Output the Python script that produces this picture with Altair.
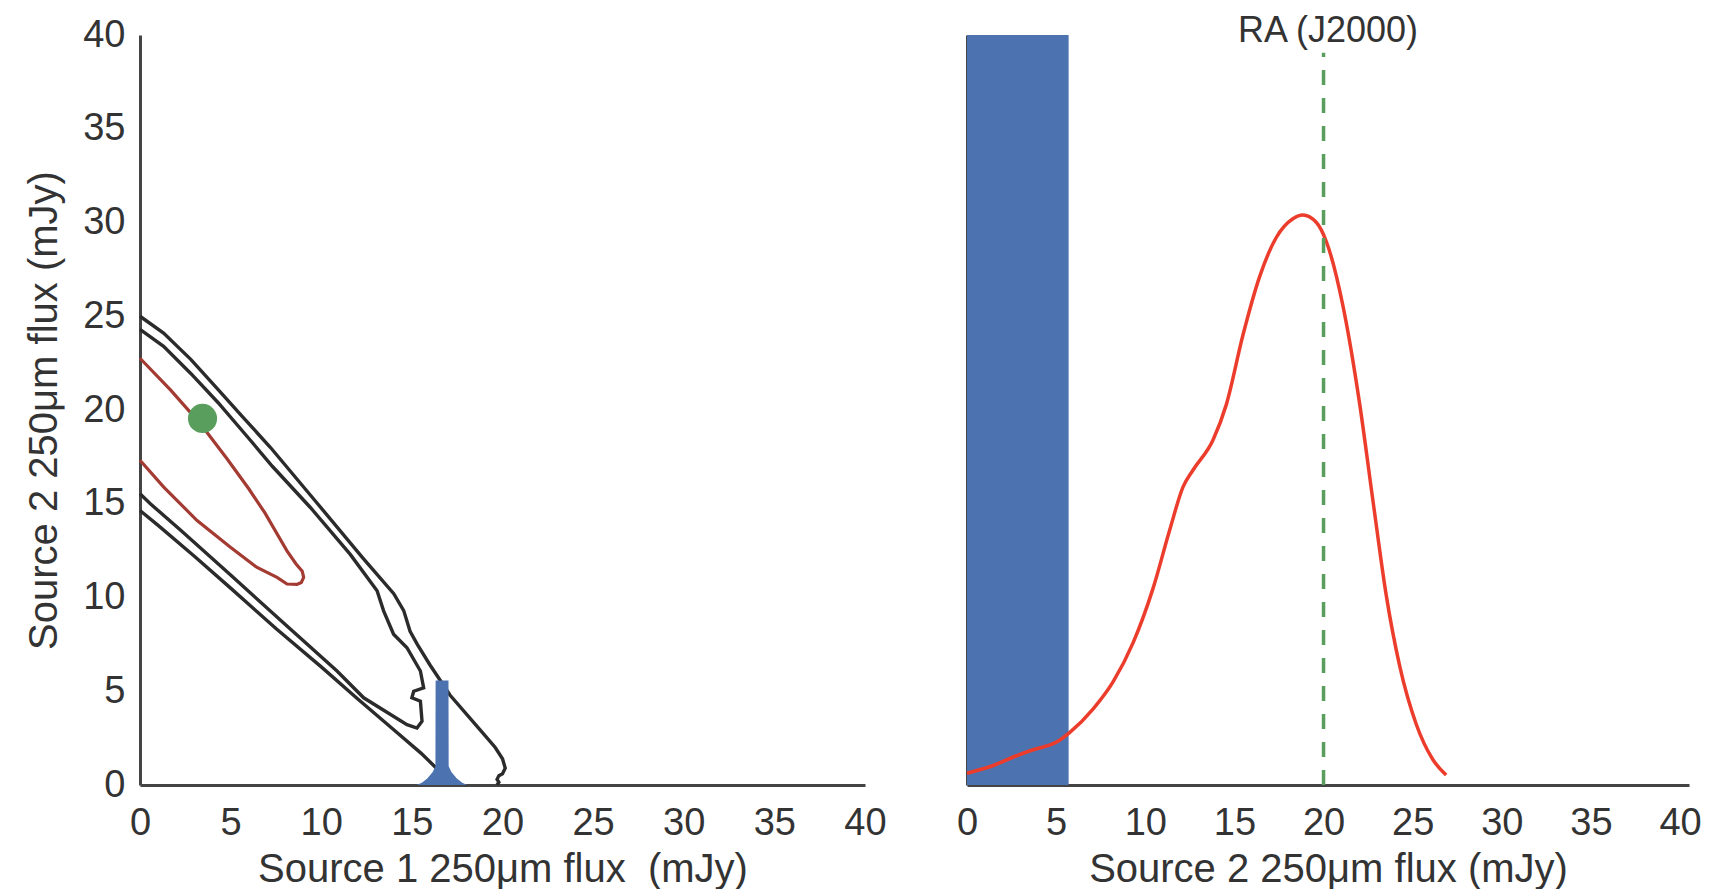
import altair as alt
import pandas as pd

FONT = "Liberation Sans"
TEXT = "#333333"

# ---------------- left panel data (x = Source 1 flux, y = Source 2 flux) ----------------
outer_upper_x = [0.0, 1.3, 2.8, 4.3, 5.6, 7.2, 9.8, 12.3, 14.0, 14.55, 14.9, 15.3, 16.0, 17.1, 18.8, 19.6, 20.0, 20.15, 20.0, 19.8, 19.7, 19.8, 19.7]
outer_upper_y = [25.0, 24.1, 22.7, 21.1, 19.7, 18.0, 15.0, 12.1, 10.2, 9.3, 8.2, 7.5, 6.4, 4.8, 2.9, 2.0, 1.4, 0.9, 0.6, 0.5, 0.3, 0.15, 0.0]

outer_lower_x = [0.0, 1.0, 3.0, 5.0, 7.5, 10.0, 12.0, 14.0, 15.5, 16.3, 16.6]
outer_lower_y = [14.64, 13.85, 12.2, 10.5, 8.35, 6.3, 4.6, 2.95, 1.7, 0.95, 0.6]

inner_x = [0.0, 1.3, 2.8, 4.3, 5.9, 7.3, 9.4, 11.6, 13.08, 13.44, 13.99, 14.73, 15.47, 15.65, 15.1, 15.0, 15.47, 15.56, 15.28, 14.73, 12.34, 10.87, 7.74, 5.0, 2.23, 0.57, 0.0]
inner_y = [24.3, 23.4, 21.95, 20.4, 18.6, 17.0, 14.8, 12.3, 10.36, 9.29, 8.04, 7.32, 6.08, 5.18, 5.0, 4.65, 4.47, 3.4, 3.04, 3.22, 4.65, 6.08, 8.8, 11.2, 13.6, 15.0, 15.53]

red_contour_x = [0.0, 1.68, 3.3, 4.8, 6.0, 6.9, 8.1, 8.6, 8.95, 9.03, 8.9, 8.66, 8.11, 7.56, 6.46, 4.99, 3.15, 1.31, 0.0]
red_contour_y = [22.76, 21.07, 19.3, 17.4, 15.8, 14.5, 12.5, 11.8, 11.4, 11.07, 10.8, 10.7, 10.72, 11.07, 11.6, 12.68, 14.1, 15.89, 17.32]

true_point_x = [3.45]
true_point_y = [19.55]

marker_x = [15.25, 15.55, 15.85, 16.15, 16.3, 16.31, 17.02, 17.03, 17.18, 17.48, 17.78, 18.05]
marker_y = [0.0, 0.12, 0.35, 0.7, 1.0, 5.58, 5.58, 1.0, 0.7, 0.35, 0.12, 0.0]

# ---------------- right panel data ----------------
prior_span = [0.0, 5.7]
pdf_x = [0, 1.47, 2.78, 3.71, 5.02, 5.77, 7.08, 8.2, 9.32, 10.44, 11.37, 12.12, 12.68, 13.8, 14.55,
         15.48, 16.41, 17.35, 18.28, 18.84, 19.6, 20.15, 21.1, 22.03, 22.78, 23.52, 24.27, 25.2, 26.13, 26.88]
pdf_y = [0.63, 1.04, 1.56, 1.88, 2.29, 2.81, 4.06, 5.51, 7.59, 10.5, 13.6, 15.9, 16.8, 18.4, 20.3,
         24.0, 27.1, 29.2, 30.2, 30.4, 30.0, 29.0, 25.5, 20.3, 15.1, 10.1, 6.35, 3.24, 1.36, 0.53]
true_flux = [20.0]
rule_top = [39.05]

tick_vals = [0, 5, 10, 15, 20, 25, 30, 35, 40]


def path(xs, ys, group):
    return pd.DataFrame({"x": xs, "y": ys, "group": group, "order": list(range(len(xs)))})


black_df = pd.concat([
    path(outer_upper_x, outer_upper_y, "outer_upper"),
    path(outer_lower_x, outer_lower_y, "outer_lower"),
    path(inner_x, inner_y, "inner"),
])
red_df = path(red_contour_x, red_contour_y, "red")
point_df = pd.DataFrame({"x": true_point_x, "y": true_point_y})
marker_df = pd.DataFrame({"x": marker_x, "y": marker_y})

span_df = pd.DataFrame({"x": [prior_span[0]], "x2": [prior_span[1]], "y": [0.0], "y2": [40.0]})
pdf_df = pd.DataFrame({"x": pdf_x, "y": pdf_y})
rule_df = pd.DataFrame({"x": true_flux, "y": [0.0], "y2": rule_top})

W_L, W_R, H = 725, 722, 750

xl = alt.X("x:Q", scale=alt.Scale(domain=[0, 40], nice=False),
           axis=alt.Axis(values=tick_vals, title="Source 1 250μm flux\u00a0 (mJy)"))
yl = alt.Y("y:Q", scale=alt.Scale(domain=[0, 40], nice=False),
           axis=alt.Axis(values=tick_vals, title="Source 2 250μm flux (mJy)"))

black = alt.Chart(black_df).mark_line(color="#2b2b2b", strokeWidth=3.4).encode(
    x=xl, y=yl, detail="group:N", order="order:Q")
redc = alt.Chart(red_df).mark_line(color="#a33b32", strokeWidth=3.2).encode(
    x="x:Q", y="y:Q", order="order:Q")
dot = alt.Chart(point_df).mark_circle(color="#5a9e5e", opacity=1, size=850).encode(x="x:Q", y="y:Q")
marker = alt.Chart(marker_df).mark_area(color="#4c72b0", opacity=1).encode(x="x:Q", y="y:Q")

left = alt.layer(black, redc, marker, dot).properties(width=W_L, height=H)

xr = alt.X("x:Q", scale=alt.Scale(domain=[0, 40.5], nice=False),
           axis=alt.Axis(values=tick_vals, title="Source 2 250μm flux (mJy)"))
yr = alt.Y("y:Q", scale=alt.Scale(domain=[0, 40], nice=False),
           axis=alt.Axis(labels=False, title=None, ticks=False))

span = alt.Chart(span_df).mark_rect(color="#4c72b0", opacity=1).encode(
    x=xr, x2="x2:Q", y=yr, y2="y2:Q")
pdf = alt.Chart(pdf_df).mark_line(color="#ec3d2c", strokeWidth=3.5, interpolate="monotone").encode(
    x="x:Q", y="y:Q")
rule = alt.Chart(rule_df).mark_rule(color="#5a9e5e", strokeWidth=3.5, strokeDash=[15, 13]).encode(
    x="x:Q", y="y:Q", y2="y2:Q")

right = alt.layer(span, pdf, rule).properties(
    width=W_R, height=H,
    title=alt.TitleParams("RA (J2000)", fontSize=36, font=FONT, color=TEXT,
                          fontWeight="normal", offset=-15, anchor="middle", frame="group"))

chart = alt.hconcat(left, right, spacing=102, bounds="flush").properties(
    padding={"left": 16, "top": 5, "right": 10, "bottom": 0},
    background="white",
).configure_view(stroke=None).configure_axis(
    labelFont=FONT, labelFontSize=38, labelColor=TEXT,
    titleFont=FONT, titleFontSize=40, titleColor=TEXT, titleFontWeight="normal",
    ticks=False, tickSize=0, grid=False,
    domainColor="#444444", domainWidth=3,
    labelFlush=False, labelOverlap=False, zindex=1,
).configure_axisX(labelPadding=19, titlePadding=7).configure_axisY(labelPadding=15, titlePadding=18)

chart.save("out.html", embed_options={"renderer": "svg", "actions": False})
